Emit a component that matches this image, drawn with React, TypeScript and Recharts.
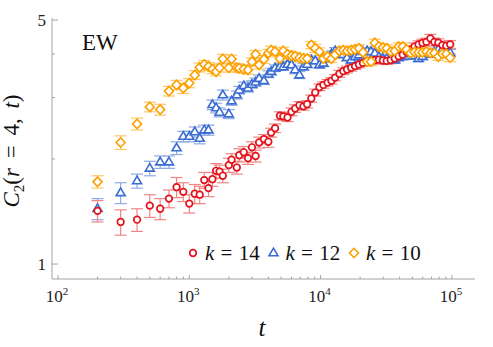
import React from 'react';
import { ScatterChart, Scatter, XAxis, YAxis, ErrorBar } from 'recharts';

// simulation times (log spaced)
const times = [
  200, 300, 400, 500, 600, 700, 800, 900, 1000, 1100, 1200, 1300, 1400, 1500, 1600, 1700, 1800,
  2000, 2100, 2300, 2400, 2600, 2800, 3000, 3200, 3400, 3700, 4000, 4200, 4500, 4900, 5200, 5600,
  6000, 6400, 6900, 7400, 7900, 8500, 9100, 9800, 10500, 11300, 12100, 12900, 13900, 14900, 15900,
  17100, 18300, 19600, 21000, 22600, 24200, 25900, 27800, 29800, 31900, 34200, 36700, 39300, 42200,
  45200, 48400, 51900, 55700, 59700, 64000, 68600, 73500, 78800, 84500, 90600, 97100,
];

const k14 = [
  1.42, 1.32, 1.34, 1.47, 1.44, 1.54, 1.66, 1.61, 1.49, 1.59, 1.58, 1.74, 1.65, 1.75, 1.85, 1.84, 1.79,
  1.92, 1.99, 1.89, 2.05, 2.09, 2.01, 2.16, 2.04, 2.23, 2.28, 2.24, 2.38, 2.45, 2.66, 2.65, 2.63,
  2.73, 2.79, 2.85, 2.83, 2.87, 2.98, 3.1, 3.21, 3.26, 3.31, 3.35, 3.42, 3.51, 3.57, 3.61,
  3.65, 3.69, 3.73, 3.77, 3.81, 3.82, 3.84, 3.85, 3.83, 3.82, 3.84, 3.88, 3.94, 3.98,
  4.05, 4.12, 4.2, 4.26, 4.3, 4.33, 4.43, 4.33, 4.31, 4.24, 4.22, 4.26,
];
const k14Err = [
  0.1, 0.11, 0.1, 0.11, 0.1, 0.09, 0.11, 0.1, 0.09, 0.1, 0.09, 0.09, 0.09, 0.08, 0.09, 0.08, 0.08,
  0.09, 0.08, 0.08, 0.09, 0.08, 0.08, 0.08, 0.08, 0.08, 0.07, 0.08, 0.07, 0.07, 0.07, 0.07, 0.07,
  0.07, 0.07, 0.07, 0.07, 0.07, 0.07, 0.07, 0.07, 0.07, 0.07, 0.07, 0.07, 0.08, 0.08, 0.08,
  0.08, 0.08, 0.08, 0.08, 0.08, 0.08, 0.09, 0.09, 0.09, 0.09, 0.09, 0.09, 0.09, 0.09,
  0.1, 0.1, 0.1, 0.1, 0.11, 0.11, 0.12, 0.11, 0.11, 0.11, 0.11, 0.11,
];

const k12 = [
  1.44, 1.6, 1.73, 1.88, 1.96, 1.96, 2.15, 2.32, 2.32, 2.39, 2.29, 2.42, 2.42, 2.86, 2.8, 2.72, 3.05,
  2.69, 2.93, 3.05, 3.15, 3.24, 3.19, 3.27, 3.32, 3.4, 3.35, 3.5, 3.56, 3.64, 3.67, 3.67, 3.73,
  3.72, 3.6, 3.48, 3.67, 3.73, 3.84, 3.82, 3.72, 3.76, 3.88, 4.0, 4.08, 4.06, 3.98, 3.9,
  3.84, 3.92, 3.97, 4.06, 4.08, 4.06, 4.02, 3.92, 3.88, 3.88, 3.86, 3.84, 3.9, 3.93,
  3.94, 4.0, 3.95, 3.88, 3.93, 4.02, 3.99, 4.05, 4.12, 4.12, 4.12, 4.03,
];
const k12Err = [
  0.1, 0.11, 0.08, 0.09, 0.08, 0.08, 0.09, 0.08, 0.08, 0.08, 0.08, 0.08, 0.08, 0.09, 0.09, 0.08, 0.1,
  0.08, 0.08, 0.08, 0.08, 0.08, 0.08, 0.08, 0.09, 0.08, 0.08, 0.08, 0.08, 0.08, 0.08, 0.08, 0.08,
  0.08, 0.09, 0.08, 0.08, 0.08, 0.08, 0.08, 0.08, 0.08, 0.08, 0.08, 0.09, 0.08, 0.08, 0.08,
  0.08, 0.08, 0.08, 0.08, 0.08, 0.08, 0.08, 0.08, 0.08, 0.08, 0.08, 0.08, 0.08, 0.08,
  0.08, 0.09, 0.08, 0.08, 0.08, 0.08, 0.08, 0.09, 0.09, 0.09, 0.09, 0.09,
];

const k10 = [
  1.72, 2.23, 2.52, 2.82, 2.77, 3.13, 3.26, 3.19, 3.3, 3.48, 3.66, 3.73, 3.68, 3.62, 3.56, 3.65, 3.87,
  3.65, 3.87, 3.65, 3.64, 3.62, 3.6, 3.8, 3.99, 3.72, 3.86, 4.02, 4.1, 4.06, 3.88, 4.08, 3.99,
  3.95, 3.94, 3.9, 3.88, 3.88, 4.24, 4.15, 4.06, 3.88, 3.93, 3.88, 3.98, 4.08, 4.1, 4.08,
  4.1, 4.12, 4.15, 4.04, 3.8, 3.8, 4.3, 4.2, 4.17, 4.15, 4.06, 4.08, 4.2, 4.2,
  4.12, 4.02, 4.05, 4.04, 4.04, 4.06, 4.02, 4.02, 3.93, 4.0, 4.0, 3.9,
];
const k10Err = [
  0.07, 0.1, 0.1, 0.09, 0.1, 0.1, 0.1, 0.11, 0.1, 0.1, 0.11, 0.1, 0.1, 0.11, 0.1, 0.1, 0.12,
  0.1, 0.1, 0.1, 0.1, 0.1, 0.1, 0.1, 0.1, 0.1, 0.1, 0.1, 0.11, 0.1, 0.1, 0.1, 0.1,
  0.1, 0.1, 0.1, 0.1, 0.1, 0.1, 0.11, 0.1, 0.1, 0.1, 0.1, 0.1, 0.1, 0.1, 0.1,
  0.1, 0.1, 0.1, 0.1, 0.1, 0.1, 0.11, 0.1, 0.1, 0.1, 0.1, 0.1, 0.1, 0.1,
  0.1, 0.1, 0.1, 0.1, 0.1, 0.1, 0.1, 0.1, 0.1, 0.1, 0.1, 0.1,
];

const xTicks = [
  100, 200, 300, 400, 500, 600, 700, 800, 900,
  1000, 2000, 3000, 4000, 5000, 6000, 7000, 8000, 9000,
  10000, 20000, 30000, 40000, 50000, 60000, 70000, 80000, 90000, 100000,
];
const yTicks = [1, 2, 3, 4, 5];
const yLabelled = [1, 5];

const frame = '#a3a3a3';
const serifStyle = { fontFamily: "'Liberation Serif', 'DejaVu Serif', serif" };

type Marker = 'circle' | 'triangle' | 'diamond';

const series = [
  { key: 'k14', label: '14', values: k14, errors: k14Err, color: '#e2131c', bar: '#f08585', marker: 'circle' as Marker },
  { key: 'k12', label: '12', values: k12, errors: k12Err, color: '#3a6cd2', bar: '#8fa9e4', marker: 'triangle' as Marker },
  { key: 'k10', label: '10', values: k10, errors: k10Err, color: '#fca000', bar: '#fdc664', marker: 'diamond' as Marker },
];
const drawOrder = ['k12', 'k14', 'k10'];

const Glyph = ({ kind, cx, cy, color }: { kind: Marker; cx: number; cy: number; color: string }) => {
  if (kind === 'circle') {
    return <circle cx={cx} cy={cy} r={3.3} fill="#fff" stroke={color} strokeWidth={1.7} />;
  }
  if (kind === 'triangle') {
    return (
      <polygon
        points={`${cx},${cy - 4.8} ${cx - 4.5},${cy + 2.8} ${cx + 4.5},${cy + 2.8}`}
        fill="#fff"
        stroke={color}
        strokeWidth={1.6}
      />
    );
  }
  return (
    <polygon
      points={`${cx},${cy - 4.7} ${cx + 4.5},${cy} ${cx},${cy + 4.7} ${cx - 4.5},${cy}`}
      fill="#fff"
      stroke={color}
      strokeWidth={1.6}
    />
  );
};

const XTick = (props: any) => {
  const { x, y, payload } = props;
  const p = Math.log10(payload.value);
  const major = Math.abs(p - Math.round(p)) < 1e-6;
  return (
    <g>
      <line x1={x} x2={x} y1={y} y2={y - (major ? 4 : 2.5)} stroke={frame} />
      {major && (
        <text x={x - 1} y={y + 23} textAnchor="middle" style={serifStyle} fontSize={17} fill="#222">
          10
          <tspan dy={-7} fontSize={11}>{Math.round(p)}</tspan>
        </text>
      )}
    </g>
  );
};

const YTick = (props: any) => {
  const { x, y, payload } = props;
  const labelled = yLabelled.includes(payload.value);
  return (
    <g>
      <line x1={x} x2={x + (labelled ? 6 : 3)} y1={y} y2={y} stroke={frame} />
      {labelled && (
        <text x={x - 6} y={y + 5.5} textAnchor="end" style={serifStyle} fontSize={17} fill="#222">
          {payload.value}
        </text>
      )}
    </g>
  );
};

export default function App() {
  return (
    <div style={{ position: 'absolute', left: 0, top: 0, width: 493, height: 347, background: '#fff' }}>
      <ScatterChart width={493} height={347} margin={{ top: 18, right: 18, bottom: 38, left: 8 }}>
        <XAxis
          dataKey="t"
          type="number"
          scale="log"
          domain={[90, 150000]}
          allowDataOverflow
          ticks={xTicks}
          interval={0}
          tickSize={0}
          tickMargin={0}
          tickLine={false}
          axisLine={{ stroke: frame }}
          tick={<XTick />}
          height={30}
        />
        <XAxis
          xAxisId="top"
          orientation="top"
          type="number"
          scale="log"
          domain={[90, 150000]}
          allowDataOverflow
          tick={false}
          tickLine={false}
          axisLine={{ stroke: frame }}
          height={0}
        />
        <YAxis
          dataKey="c"
          type="number"
          scale="log"
          domain={[0.906, 5.07]}
          allowDataOverflow
          ticks={yTicks}
          interval={0}
          tickSize={0}
          tickMargin={0}
          tickLine={false}
          axisLine={{ stroke: frame }}
          tick={<YTick />}
          width={44}
        />
        <YAxis
          yAxisId="right"
          orientation="right"
          type="number"
          scale="log"
          domain={[0.906, 5.07]}
          allowDataOverflow
          tick={false}
          tickLine={false}
          axisLine={{ stroke: frame }}
          width={0}
        />
        {drawOrder.map((k) => {
          const s = series.find((d) => d.key === k)!;
          const data = times.map((t, i) => ({ t, c: s.values[i], e: s.errors[i] }));
          return (
            <Scatter
              key={s.key}
              name={s.key}
              data={data}
              isAnimationActive={false}
              shape={(p: any) => <Glyph kind={s.marker} cx={p.cx} cy={p.cy} color={s.color} />}
            >
              <ErrorBar dataKey="e" direction="y" width={6} stroke={s.bar} strokeWidth={1.2} isAnimationActive={false} />
            </Scatter>
          );
        })}
      </ScatterChart>

      <svg width={493} height={347} style={{ position: 'absolute', left: 0, top: 0, pointerEvents: 'none' }}>
        <text x={82} y={50} style={serifStyle} fontSize={23} fill="#111">EW</text>

        <text transform="translate(19,151) rotate(-90)" textAnchor="middle" style={{ ...serifStyle, wordSpacing: 4 }} fontSize={23} fill="#111">
          <tspan fontStyle="italic">C</tspan>
          <tspan fontSize={15} dy={5}>2</tspan>
          <tspan dy={-5}>(</tspan>
          <tspan fontStyle="italic">r</tspan>
          <tspan>{' = 4, '}</tspan>
          <tspan fontStyle="italic">t</tspan>
          <tspan>)</tspan>
        </text>

        <text x={262} y={336} textAnchor="middle" style={serifStyle} fontSize={25} fontStyle="italic" fill="#111">t</text>

        {series.map((s, i) => {
          const lx = 193 + i * 80.5;
          return (
            <g key={s.key}>
              <Glyph kind={s.marker} cx={lx} cy={253} color={s.color} />
              <text x={lx + 12} y={259.5} style={{ ...serifStyle, wordSpacing: 1 }} fontSize={21} fill="#111">
                <tspan fontStyle="italic">k</tspan>
                <tspan>{' = ' + s.label}</tspan>
              </text>
            </g>
          );
        })}
      </svg>
    </div>
  );
}
